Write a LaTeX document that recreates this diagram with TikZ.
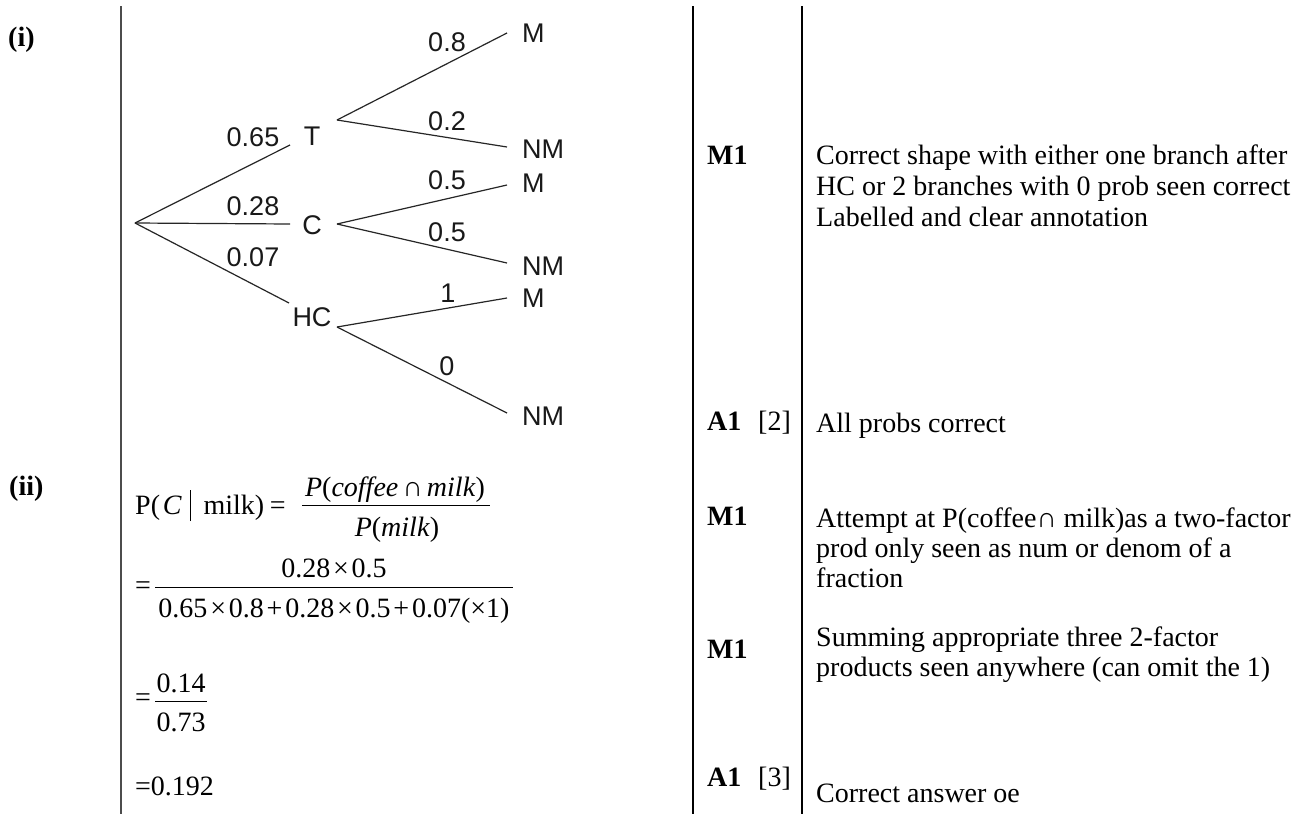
\documentclass[tikz,border=0pt]{standalone}
\usepackage{fontspec}
\setmainfont{Liberation Serif}
\newfontfamily\treefont{Liberation Sans}
\usetikzlibrary{positioning}
\newcommand{\givenbar}{\hspace{0.3em}\rule[-0.25em]{0.8pt}{1.1em}\hspace{0.45em}}
\newcommand{\op}[1]{\hspace{0.1em}#1\hspace{0.1em}}

\begin{document}
\begin{tikzpicture}[x=1pt,y=-1pt,
    rulel/.style={line width=1.3pt,draw=black},
    branch/.style={line width=1.2pt,draw=black!85},
    fracbar/.style={line width=1pt,draw=black},
    lvl/.style={font=\treefont\fontsize{27}{30}\selectfont,inner sep=0pt,text=black!90},
    leaf/.style={lvl,anchor=west,inner xsep=15pt},
    eq/.style={font=\fontsize{28}{32}\selectfont,inner sep=0pt,anchor=base},
    note/.style={font=\fontsize{28}{32}\selectfont,inner sep=0pt,anchor=base west},
    markcell/.style={note,font=\fontsize{28}{32}\selectfont\bfseries}
  ]
  \useasboundingbox (0,0) rectangle (1306,814);
  \fill[white] (0,0) rectangle (1306,814);

  % table rules
  \draw[rulel,draw=black!70] (121,6) -- (121,814);
  \draw[rulel] (693,6) -- (693,814);
  \draw[rulel] (802,6) -- (802,814);

  % part labels
  \node[markcell] (parti) at (8,46) {(i)};
  \node[markcell] (partii) at (9,495) {(ii)};

  % tree: first level
  \coordinate (root) at (135,223);
  \coordinate (T-in) at (290,145);
  \coordinate (T-out) at (337,120);
  \coordinate (C-in) at (290,224);
  \coordinate (C-out) at (337,224);
  \coordinate (HC-in) at (289,303);
  \coordinate (HC-out) at (337,327);
  \node[lvl] (T) at (312,136) {T};
  \node[lvl] (C) at (312,225) {C};
  \node[lvl] (HC) at (312,317) {HC};
  \draw[branch] (root) -- (T-in);
  \draw[branch] (root) -- (C-in);
  \draw[branch] (root) -- (HC-in);
  \node[lvl] (pT) at (253,137) {0.65};
  \node[lvl] (pC) at (253,206) {0.28};
  \node[lvl] (pHC) at (253,257) {0.07};

  % tree: second level
  \node[leaf] (TM) at (507,33) {M};
  \node[leaf] (TN) at (507,149) {NM};
  \node[leaf] (CM) at (507,183) {M};
  \node[leaf] (CN) at (507,266) {NM};
  \node[leaf] (HM) at (507,298) {M};
  \node[leaf] (HN) at (507,416) {NM};
  \draw[branch] (T-out) -- (TM.west);
  \draw[branch] (T-out) -- ([yshift=2pt]TN.west);
  \draw[branch] (C-out) -- ([yshift=-2pt]CM.west);
  \draw[branch] (C-out) -- ([yshift=3pt]CN.west);
  \draw[branch] (HC-out) -- (HM.west);
  \draw[branch] (HC-out) -- ([yshift=3pt]HN.west);
  \node[lvl] (pTM) at (447,42) {0.8};
  \node[lvl] (pTN) at (447,121) {0.2};
  \node[lvl] (pCM) at (447,180) {0.5};
  \node[lvl] (pCN) at (447,232) {0.5};
  \node[lvl] (pHM) at (448,293) {1};
  \node[lvl] (pHN) at (447,366) {0};

  % working for (ii)
  \node[note] (eqa) at (135,514) {P(\hspace{0.1em}\textit{C}\givenbar milk)\hspace{0.2em}=};
  \node[eq] (numa) at (395,496) {\textit{P}(\textit{coffee}\hspace{0.15em}∩\hspace{0.15em}\textit{milk})};
  \node[eq] (dena) at (397,536) {\textit{P}(\textit{milk})};
  \draw[fracbar] (302,505) -- (490,505);

  \node[note] (eqb) at (135,594) {=};
  \node[eq] (numb) at (334,577) {0.28\op{×}0.5};
  \node[eq] (denb) at (334,617) {0.65\op{×}0.8\op{+}0.28\op{×}0.5\op{+}0.07(×1)};
  \draw[fracbar] (155,587) -- (513,587);

  \node[note] (eqc) at (135,706) {=};
  \node[eq] (numc) at (181,692) {0.14};
  \node[eq] (denc) at (181,731) {0.73};
  \draw[fracbar] (155,701) -- (207,701);

  \node[note] (eqd) at (135,795) {=0.192};

  % marks column
  \node[markcell] (ma) at (707,164) {M1};
  \node[markcell] (mb) at (707,430) {A1\hspace{0.6em}\mdseries[2]};
  \node[markcell] (mc) at (707,525) {M1};
  \node[markcell] (md) at (707,658) {M1};
  \node[markcell] (me) at (707,786) {A1\hspace{0.6em}\mdseries[3]};

  % guidance column
  \node[note] (ga1) at (816,164) {Correct shape with either one branch after};
  \node[note] (ga2) at (816,195) {HC or 2 branches with 0 prob seen correct};
  \node[note] (ga3) at (816,226) {Labelled and clear annotation};
  \node[note] (gb) at (816,432) {All probs correct};
  \node[note] (gc1) at (816,527) {Attempt at P(coffee∩ milk)as a two-factor};
  \node[note] (gc2) at (816,557) {prod only seen as num or denom of a};
  \node[note] (gc3) at (816,587) {fraction};
  \node[note] (gd1) at (816,646) {Summing appropriate three 2-factor};
  \node[note] (gd2) at (816,676) {products seen anywhere (can omit the 1)};
  \node[note] (ge) at (816,802) {Correct answer oe};
\end{tikzpicture}
\end{document}
